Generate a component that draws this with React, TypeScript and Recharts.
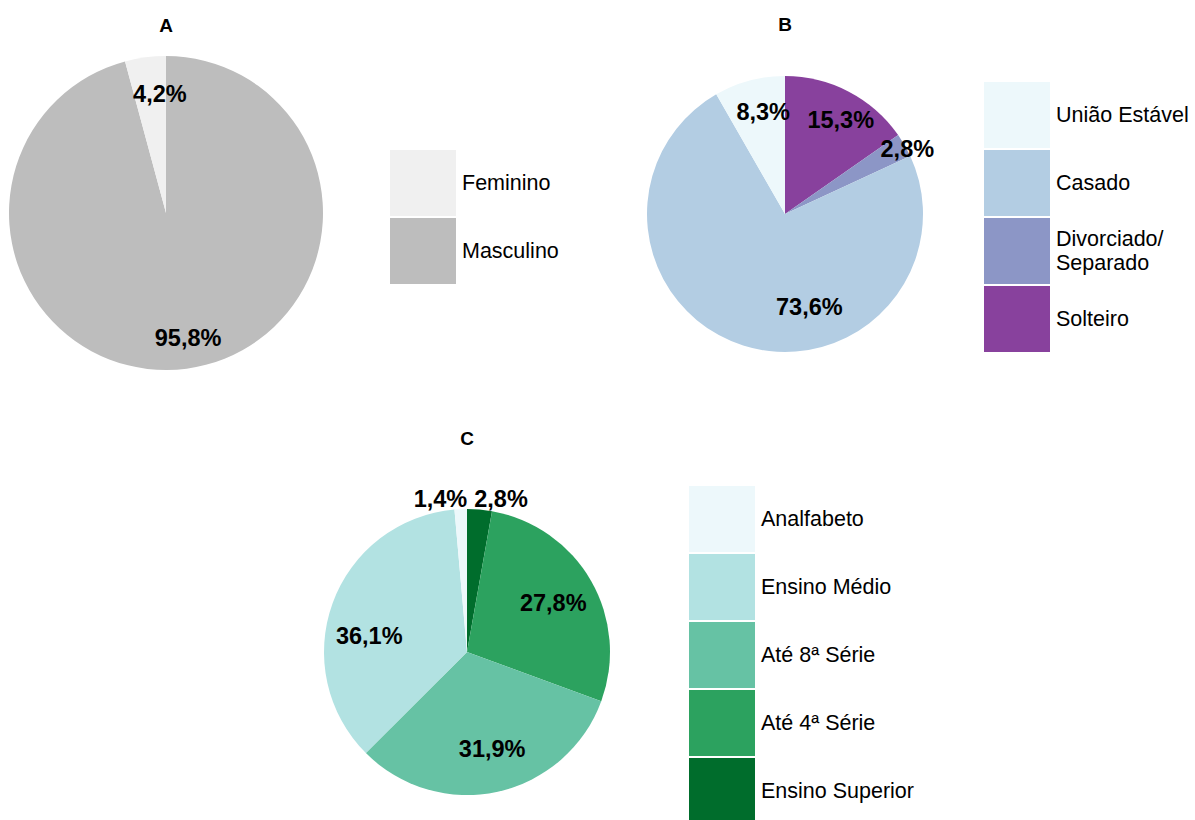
import React from 'react';
import { PieChart, Pie, Cell } from 'recharts';

// ---- Panel A: sexo ----
const sexNames = ['Masculino', 'Feminino'];
const sexValues = [95.8, 4.2];
const sexColors = ['#BDBDBD', '#F0F0F0'];

// ---- Panel B: estado civil ----
const civilNames = ['Solteiro', 'Divorciado/\nSeparado', 'Casado', 'União Estável'];
const civilValues = [15.3, 2.8, 73.6, 8.3];
const civilColors = ['#88419D', '#8C96C6', '#B3CDE3', '#EDF8FB'];

// ---- Panel C: escolaridade ----
const eduNames = ['Ensino Superior', 'Até 4ª Série', 'Até 8ª Série', 'Ensino Médio', 'Analfabeto'];
const eduValues = [2.8, 27.8, 31.9, 36.1, 1.4];
const eduColors = ['#006D2C', '#2CA25F', '#66C2A4', '#B2E2E2', '#EDF8FB'];

const toRows = (names: string[], values: number[]) =>
  names.map((name, i) => ({ name, value: values[i] }));

const sexData = toRows(sexNames, sexValues);
const civilData = toRows(civilNames, civilValues);
const eduData = toRows(eduNames, eduValues);

// label placement tweaks (px) applied after the mid-angle position
const sexLabelShift = [[6, 4], [10, 2]];
const civilLabelShift = [[6, 1], [29, -11], [57, -10], [6, 2]];
const eduLabelShift = [[25, -50], [-3, 2], [3, -4], [-1, 19], [-22, -50]];

const FONT = '"Liberation Sans", Arial, Helvetica, sans-serif';
const RAD = Math.PI / 180;

const fmt = (v: number) => `${v.toFixed(1).replace('.', ',')}%`;

function makeLabel(factor: number, shift: number[][]) {
  return (props: any) => {
    const { cx, cy, midAngle, outerRadius, index } = props;
    const value = props.value ?? props.payload?.value;
    const r = outerRadius * factor;
    const x = cx + r * Math.cos(-midAngle * RAD) + shift[index][0];
    const y = cy + r * Math.sin(-midAngle * RAD) + shift[index][1];
    return (
      <text
        x={x}
        y={y}
        textAnchor="middle"
        dominantBaseline="central"
        fontFamily={FONT}
        fontWeight={700}
        fontSize={23.5}
        fill="#000"
      >
        {fmt(value)}
      </text>
    );
  };
}

function LegendBlock({
  x,
  y,
  names,
  colors,
}: {
  x: number;
  y: number;
  names: string[];
  colors: string[];
}) {
  const step = 68;
  return (
    <>
      {names.map((n, i) => (
        <React.Fragment key={n}>
          <div
            style={{
              position: 'absolute',
              left: x,
              top: y + i * step,
              width: 66,
              height: 66,
              background: colors[i],
            }}
          />
          <div
            style={{
              position: 'absolute',
              left: x + 72,
              top: y + i * step,
              height: 66,
              display: 'flex',
              alignItems: 'center',
              fontFamily: FONT,
              fontSize: 21.5,
              lineHeight: '24px',
              color: '#000',
              whiteSpace: 'pre',
            }}
          >
            {n}
          </div>
        </React.Fragment>
      ))}
    </>
  );
}

function Title({ x, y, text }: { x: number; y: number; text: string }) {
  return (
    <div
      style={{
        position: 'absolute',
        left: x - 20,
        top: y - 12,
        width: 40,
        height: 24,
        lineHeight: '24px',
        textAlign: 'center',
        fontFamily: FONT,
        fontWeight: 700,
        fontSize: 19,
        color: '#000',
      }}
    >
      {text}
    </div>
  );
}

const rev = <T,>(a: T[]) => [...a].reverse();

export default function App() {
  return (
    <div
      style={{
        position: 'absolute',
        left: 0,
        top: 0,
        width: 1195,
        height: 820,
        background: '#fff',
        overflow: 'hidden',
      }}
    >
      <PieChart width={1195} height={820} margin={{ top: 0, right: 0, bottom: 0, left: 0 }}>
        <Pie
          data={sexData}
          dataKey="value"
          nameKey="name"
          cx={166}
          cy={213}
          outerRadius={157}
          startAngle={90}
          endAngle={-270}
          stroke="none"
          labelLine={false}
          label={makeLabel(0.78, sexLabelShift)}
          isAnimationActive={false}
        >
          {sexData.map((d, i) => (
            <Cell key={d.name} fill={sexColors[i]} />
          ))}
        </Pie>
        <Pie
          data={civilData}
          dataKey="value"
          nameKey="name"
          cx={785}
          cy={214}
          outerRadius={138}
          startAngle={90}
          endAngle={-270}
          stroke="none"
          labelLine={false}
          label={makeLabel(0.78, civilLabelShift)}
          isAnimationActive={false}
        >
          {civilData.map((d, i) => (
            <Cell key={d.name} fill={civilColors[i]} />
          ))}
        </Pie>
        <Pie
          data={eduData}
          dataKey="value"
          nameKey="name"
          cx={467}
          cy={652}
          outerRadius={143}
          startAngle={90}
          endAngle={-270}
          stroke="none"
          labelLine={false}
          label={makeLabel(0.72, eduLabelShift)}
          isAnimationActive={false}
        >
          {eduData.map((d, i) => (
            <Cell key={d.name} fill={eduColors[i]} />
          ))}
        </Pie>
      </PieChart>

      <Title x={166} y={26} text="A" />
      <Title x={785} y={25} text="B" />
      <Title x={467} y={439} text="C" />

      <LegendBlock x={390} y={150} names={rev(sexNames)} colors={rev(sexColors)} />
      <LegendBlock x={984} y={82} names={rev(civilNames)} colors={rev(civilColors)} />
      <LegendBlock x={689} y={486} names={rev(eduNames)} colors={rev(eduColors)} />
    </div>
  );
}
